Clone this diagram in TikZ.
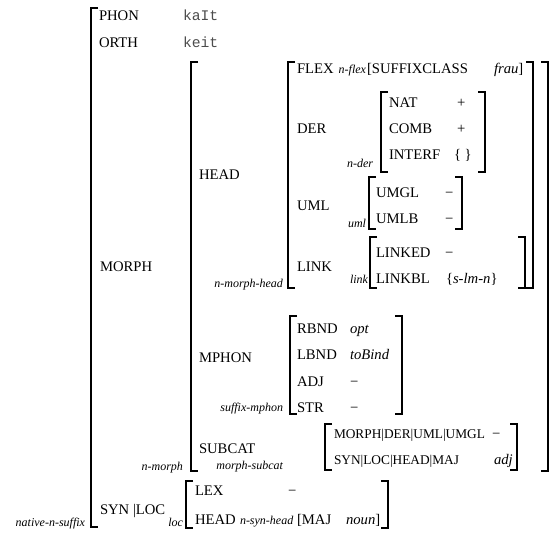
\documentclass[tikz,border=0pt]{standalone}
\usepackage{fontspec}
\setmainfont{Liberation Serif}
\newfontfamily\monof{Liberation Mono}
\begin{document}
\begin{tikzpicture}[x=0.75pt,y=-0.75pt,
  every node/.style={inner sep=0pt, outer sep=0pt, anchor=base west},
  att/.style={font=\fontsize{11}{13}\selectfont},
  val/.style={font=\fontsize{11}{13}\selectfont\itshape},
  pth/.style={font=\fontsize{10}{12}\selectfont},
  ph/.style={font=\fontsize{11}{13}\monof, text=black!70},
  lab/.style={font=\fontsize{9}{11}\selectfont\itshape, anchor=base east},
  brk/.style={line width=1.8pt, line join=miter, line cap=butt}]
\useasboundingbox (0,0) rectangle (558,540);
% brackets
\draw[brk] (98,8) -- (91,8) -- (91,527) -- (98,527);
\draw[brk] (198,62) -- (191,62) -- (191,471) -- (198,471);
\draw[brk] (541,62) -- (548,62) -- (548,471) -- (541,471);
\draw[brk] (295,62) -- (288,62) -- (288,288) -- (295,288);
\draw[brk] (526,62) -- (533,62) -- (533,288) -- (526,288);
\draw[brk] (388,92) -- (381,92) -- (381,172) -- (388,172);
\draw[brk] (478,92) -- (485,92) -- (485,172) -- (478,172);
\draw[brk] (376,177) -- (369,177) -- (369,229) -- (376,229);
\draw[brk] (455,177) -- (462,177) -- (462,229) -- (455,229);
\draw[brk] (377,237) -- (370,237) -- (370,288) -- (377,288);
\draw[brk] (518,237) -- (525,237) -- (525,288) -- (518,288);
\draw[brk] (297,316) -- (290,316) -- (290,414) -- (297,414);
\draw[brk] (395,316) -- (402,316) -- (402,414) -- (395,414);
\draw[brk] (332,424) -- (325,424) -- (325,470) -- (332,470);
\draw[brk] (510,424) -- (517,424) -- (517,470) -- (510,470);
\draw[brk] (193,481) -- (186,481) -- (186,528) -- (193,528);
\draw[brk] (381,481) -- (388,481) -- (388,528) -- (381,528);
% texts
\node[att] (phon) at (99,20) {PHON};
\node[ph] (kait) at (183,20) {kaIt};
\node[att] (orth) at (99,47) {ORTH};
\node[ph] (keit) at (183,47) {keit};
\node[att] (morph) at (100,271) {MORPH};
\node[att] (head) at (199,179) {HEAD};
\node[lab] (lnmh) at (283,287) {n-morph-head};
\node[att] (flex) at (297,73) {FLEX};
\node[lab] (lnflex) at (366,73) {n-flex};
\node[att] (sfx) at (367,73) {[SUFFIXCLASS};
\node[val] (frau) at (494,73) {frau};
\node[att] (frauc) at (frau.base east) {]};
\node[att] (der) at (297,133) {DER};
\node[lab] (lnder) at (373,167) {n-der};
\node[att] (nat) at (389,107) {NAT};
\node[att] (natv) at (457,107) {+};
\node[att] (comb) at (389,133) {COMB};
\node[att] (combv) at (457,133) {+};
\node[att] (interf) at (389,159) {INTERF};
\node[att] (interfv) at (454,159) {\{ \}};
\node[att] (uml) at (297,210) {UML};
\node[lab] (luml) at (366,227) {uml};
\node[att] (umgl) at (376,197) {UMGL};
\node[att] (umglv) at (445,197) {−};
\node[att] (umlb) at (376,223) {UMLB};
\node[att] (umlbv) at (445,223) {−};
\node[att] (link) at (297,271) {LINK};
\node[lab] (llink) at (368,283) {link};
\node[att] (linked) at (376,257) {LINKED};
\node[att] (linkedv) at (445,257) {−};
\node[att] (linkbl) at (376,283) {LINKBL};
\node[att] (linkblv) at (446,283) {\{\textit{s-lm-n}\}};
\node[att] (mphon) at (199,362) {MPHON};
\node[lab] (lsm) at (283,411) {suffix-mphon};
\node[att] (rbnd) at (297,333) {RBND};
\node[val] (rbndv) at (350,333) {opt};
\node[att] (lbnd) at (297,359) {LBND};
\node[val] (lbndv) at (350,359) {toBind};
\node[att] (adj) at (297,386) {ADJ};
\node[att] (adjv) at (350,386) {−};
\node[att] (str) at (297,412) {STR};
\node[att] (strv) at (350,412) {−};
\node[att] (subcat) at (199,453) {SUBCAT};
\node[lab] (lms) at (283,469) {morph-subcat};
\node[lab] (lnm) at (183,470) {n-morph};
\node[pth] (p1) at (334,438) {MORPH|DER|UML|UMGL};
\node[att] (p1v) at (492,438) {−};
\node[pth] (p2) at (334,464) {SYN|LOC|HEAD|MAJ};
\node[val] (p2v) at (494,464) {adj};
\node[att] (synloc) at (100,514) {SYN |LOC};
\node[lab] (lloc) at (183,526) {loc};
\node[att] (lex) at (195,495) {LEX};
\node[att] (lexv) at (288,495) {−};
\node[att] (head2) at (195,524) {HEAD};
\node[lab,anchor=base west] (lnsh) at (240,524) {n-syn-head};
\node[att] (maj) at (297,524) {[MAJ};
\node[val] (noun) at (346,524) {noun};
\node[att] (nounc) at (noun.base east) {]};
\node[lab] (lnns) at (85,526) {native-n-suffix};
\end{tikzpicture}
\end{document}
